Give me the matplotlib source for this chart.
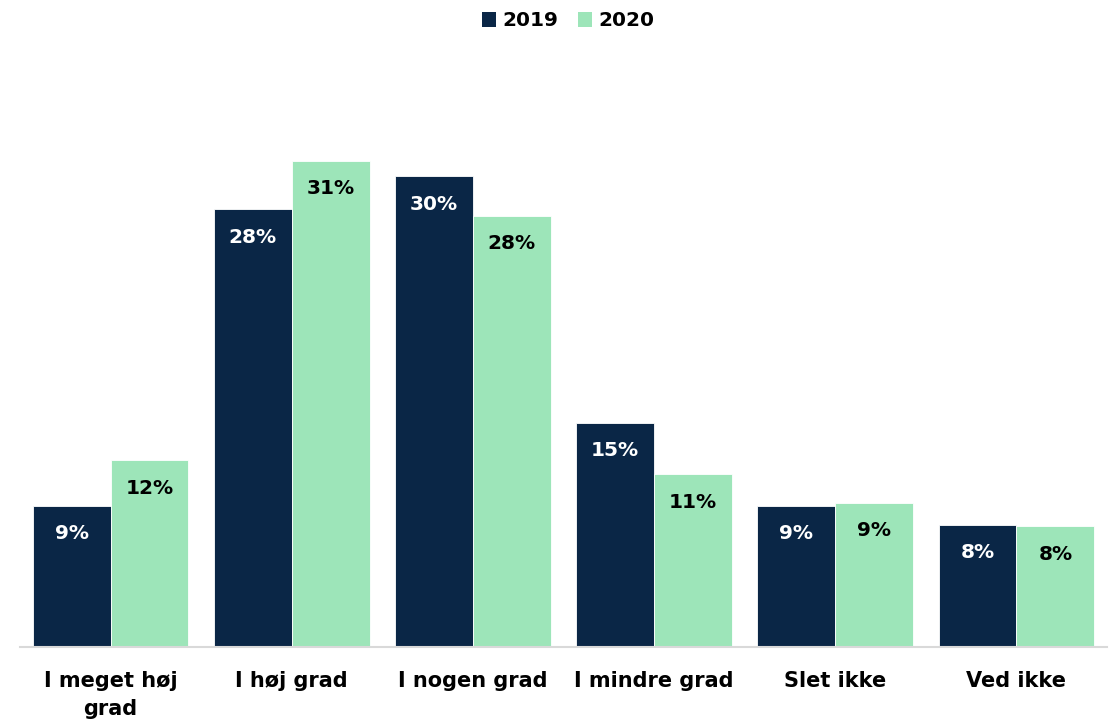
import matplotlib
matplotlib.use("Agg")
import matplotlib.pyplot as plt
import numpy as np
from matplotlib.patches import Patch

categories = ["I meget høj\ngrad", "I høj grad", "I nogen grad", "I mindre grad", "Slet ikke", "Ved ikke"]
series_names = ["2019", "2020"]
values_2019 = [9.0, 27.9, 30.0, 14.3, 9.0, 7.8]
values_2020 = [11.9, 31.0, 27.5, 11.0, 9.2, 7.7]
labels_2019 = ["9%", "28%", "30%", "15%", "9%", "8%"]
labels_2020 = ["12%", "31%", "28%", "11%", "9%", "8%"]

c2019 = "#0A2646"
c2020 = "#9DE5B9"

plt.rcParams['font.family'] = ['DejaVu Sans']

fig = plt.figure(figsize=(11.12, 7.21), dpi=100)
ax = fig.add_axes([20/1112, 1 - 647/721, 1087/1112, (647-90)/721])

x = np.arange(len(categories))
w = 0.43
b1 = ax.bar(x - w/2, values_2019, w, color=c2019, edgecolor="white", linewidth=0.6)
b2 = ax.bar(x + w/2, values_2020, w, color=c2020, edgecolor="white", linewidth=0.6)

for rect, lab in zip(b1, labels_2019):
    ax.annotate(lab, (rect.get_x() + rect.get_width()/2, rect.get_height()),
                xytext=(0, -28), textcoords="offset pixels", ha="center", va="center",
                color="white", fontsize=14.5, fontweight="bold")
for rect, lab in zip(b2, labels_2020):
    ax.annotate(lab, (rect.get_x() + rect.get_width()/2, rect.get_height()),
                xytext=(0, -28), textcoords="offset pixels", ha="center", va="center",
                color="black", fontsize=14.5, fontweight="bold")

ax.set_xlim(-0.5, len(categories) - 0.5)
ax.set_ylim(0, 35.5)
ax.set_xticks(x)
ax.set_xticklabels(categories, fontsize=15, fontweight="bold", linespacing=1.5)
ax.tick_params(axis="x", length=0, pad=17)
ax.set_yticks([])
for s in ["top", "right", "left"]:
    ax.spines[s].set_visible(False)
ax.spines["bottom"].set_color("#D9D9D9")
ax.spines["bottom"].set_linewidth(1.5)

handles = [Patch(facecolor=c2019), Patch(facecolor=c2020)]
fig.legend(handles, series_names, loc="center", bbox_to_anchor=(568/1112, 1 - 21/721),
           ncol=2, frameon=False, prop={"weight": "bold", "size": 14.5},
           handlelength=0.7, handleheight=0.7, handletextpad=0.3, columnspacing=1.0)

fig.savefig("out.png", dpi=100)
